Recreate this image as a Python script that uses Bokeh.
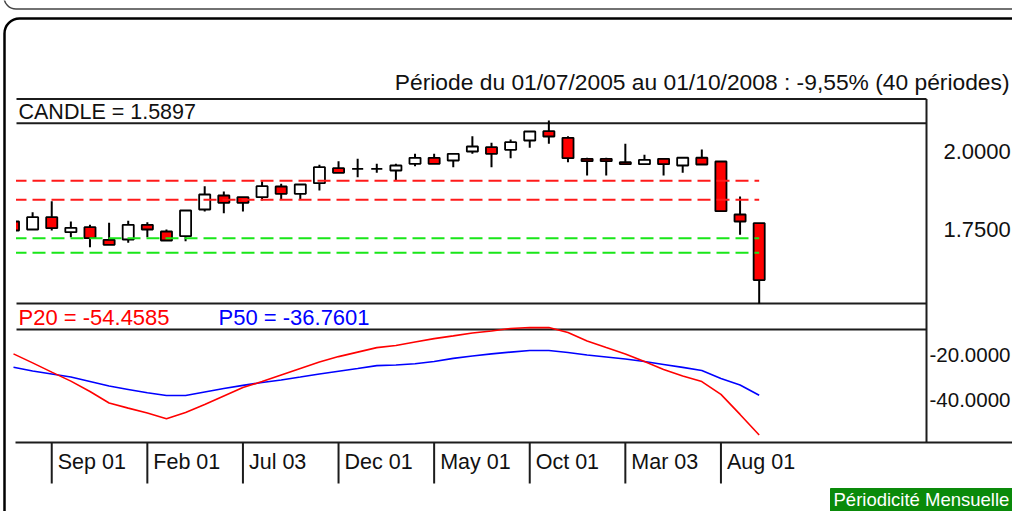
from bokeh.plotting import figure
from bokeh.models import Range1d, BoxAnnotation
from bokeh.core.properties import value
from bokeh.embed import file_html
from bokeh.resources import INLINE

# ---------------- data ----------------
opens = [1.7760, 1.7506, 1.7896, 1.7420, 1.7579, 1.7178, 1.7188, 1.7655, 1.7442, 1.7293,
         1.8141, 1.8586, 1.8532, 1.8532, 1.8872, 1.8640, 1.8977, 1.9454, 1.9434, 1.9434,
         1.9380, 1.9593, 1.9784, 1.9698, 1.9984, 2.0121, 2.0038, 2.0334, 2.0629, 2.0420,
         1.9752, 1.9752, 1.9644, 1.9581, 1.9752, 1.9539, 1.9785, 1.9666, 1.7982, 1.7706]
closes = [1.7474, 1.7896, 1.7547, 1.7560, 1.7229, 1.7019, 1.7655, 1.7506, 1.7156, 1.8109,
          1.8618, 1.8354, 1.8354, 1.8882, 1.8640, 1.8935, 1.9485, 1.9307, 1.9434, 1.9434,
          1.9539, 1.9784, 1.9593, 1.9911, 2.0143, 1.9911, 2.0280, 2.0620, 2.0461, 1.9771,
          1.9676, 1.9676, 1.9581, 1.9720, 1.9581, 1.9785, 1.9571, 1.8087, 1.7760, 1.5897]
highs = [1.7760, 1.8055, 1.8405, 1.7760, 1.7655, 1.7719, 1.7782, 1.7738, 1.7506, 1.8109,
         1.8882, 1.8713, 1.8532, 1.9040, 1.8958, 1.8935, 1.9562, 1.9676, 1.9752, 1.9593,
         1.9593, 1.9911, 1.9911, 1.9911, 2.0470, 2.0261, 2.0365, 2.0620, 2.0969, 2.0470,
         1.9784, 1.9784, 2.0229, 1.9879, 1.9752, 1.9785, 2.0048, 1.9666, 1.8554, 1.7706]
lows = [1.7293, 1.7506, 1.7474, 1.7261, 1.6943, 1.7019, 1.7083, 1.7261, 1.7156, 1.7134,
        1.8078, 1.8024, 1.8078, 1.8427, 1.8449, 1.8459, 1.8745, 1.9307, 1.9167, 1.9307,
        1.9063, 1.9517, 1.9593, 1.9485, 1.9911, 1.9485, 1.9771, 2.0102, 2.0229, 1.9644,
        1.9222, 1.9222, 1.9581, 1.9581, 1.9222, 1.9307, 1.9571, 1.8087, 1.7337, 1.5150]

p20 = [-18.4, -22.4, -26.5, -30.5, -35.1, -40.2, -42.5, -44.7, -47.2, -44.4,
       -40.9, -37.1, -33.3, -30.7, -27.8, -24.9, -22.0, -19.6, -17.6, -15.6,
       -14.7, -13.1, -11.6, -10.4, -9.1, -8.2, -7.1, -6.7, -6.7, -8.9,
       -12.7, -15.6, -18.4, -21.8, -25.3, -28.2, -30.7, -36.4, -45.3, -54.4585]
p50 = [-24.3, -26.0, -27.3, -28.7, -30.7, -32.7, -34.2, -35.7, -36.9, -36.9,
       -35.3, -33.8, -32.4, -31.1, -30.0, -28.7, -27.3, -26.1, -24.9, -23.6,
       -23.3, -22.8, -21.8, -20.4, -19.3, -18.4, -17.6, -16.9, -16.9, -17.8,
       -18.9, -19.8, -20.7, -21.8, -23.1, -24.4, -25.8, -29.3, -32.2, -36.7601]

resistance_levels = [1.9053, 1.8449]
support_levels = [1.7229, 1.6765]

tick_index = [2, 7, 12, 17, 22, 27, 32, 37]
tick_labels = ["Sep 01", "Feb 01", "Jul 03", "Dec 01", "May 01", "Oct 01", "Mar 03", "Aug 01"]
price_ticks = [2.0, 1.75]
osc_ticks = [-20.0, -40.0]

title_text = "Période du 01/07/2005 au 01/10/2008 : -9,55% (40 périodes)"
period_text = "Périodicité Mensuelle"

# ---------------- layout / scales (canvas pixel coordinates) ----------------
W, H = 1012, 511
X_AT_IDX0, PX_PER_IDX = 13.0, 19.12
Y_AT_P2, PX_PER_PRICE = 150.5, 314.7
Y_AT_OSC0, PX_PER_OSC = 312.0, 2.25


def idx_at(x):
    return (x - X_AT_IDX0) / PX_PER_IDX


def price_at(y):
    return 2.0 - (y - Y_AT_P2) / PX_PER_PRICE


def osc_at(y):
    return (Y_AT_OSC0 - y) / PX_PER_OSC


FONT = value("Liberation Sans")
LINE = "#1c1c1c"

p = figure(width=W, height=H, x_range=Range1d(0, W), y_range=Range1d(H, 0),
           min_border=0, toolbar_location=None, output_backend="svg",
           x_axis_location=None, y_axis_location=None, outline_line_color=None,
           background_fill_color="white", border_fill_color="white")
p.grid.visible = False
p.extra_x_ranges = {"idx": Range1d(idx_at(0), idx_at(W))}
p.extra_y_ranges = {"price": Range1d(price_at(H), price_at(0)),
                    "osc": Range1d(osc_at(H), osc_at(0))}

n = len(closes)
idx = list(range(n))

# panel frame lines
L, R = 16, 926
p.segment(x0=[L, L, L, L, 15, R], x1=[R, R, R, R, W, R],
          y0=[98.5, 122.7, 303, 329, 442, 98.5], y1=[98.5, 122.7, 303, 329, 442, 442],
          line_color=LINE, line_width=2)

# x-axis ticks (long tick lines) at candle positions, labels to their right
p.segment(x0=tick_index, x1=tick_index, y0=[442] * len(tick_index), y1=[483] * len(tick_index),
          x_range_name="idx", line_color=LINE, line_width=2)
p.text(x=tick_index, y=[461] * len(tick_index), text=tick_labels, x_range_name="idx",
       x_offset=6, text_font=FONT, text_font_size="21.5px", text_align="left",
       text_baseline="middle", text_color="#111")

# candles
body_top = [max(o, c) for o, c in zip(opens, closes)]
body_bot = [min(o, c) for o, c in zip(opens, closes)]
fills = ["#ff0000" if c < o else ("white" if c > o else "black") for o, c in zip(opens, closes)]
p.segment(x0=idx, x1=idx, y0=lows, y1=highs, x_range_name="idx", y_range_name="price",
          line_color="black", line_width=2)
p.vbar(x=idx, width=0.58, top=body_top, bottom=body_bot, x_range_name="idx",
       y_range_name="price", fill_color=fills, line_color="black", line_width=1.8)

# dashed support / resistance levels
for lv in resistance_levels:
    p.segment(x0=[0], x1=[n - 1], y0=[lv], y1=[lv], x_range_name="idx", y_range_name="price",
              line_color="#ff1a1a", line_width=2, line_dash="13 6")
for lv in support_levels:
    p.segment(x0=[0], x1=[n - 1], y0=[lv], y1=[lv], x_range_name="idx", y_range_name="price",
              line_color="#19e619", line_width=2, line_dash="13 6")

# oscillator lines
p.line(x=idx, y=p50, x_range_name="idx", y_range_name="osc", line_color="#0000ff", line_width=1.6)
p.line(x=idx, y=p20, x_range_name="idx", y_range_name="osc", line_color="#ff0000", line_width=1.6)

# right-hand value labels
p.text(x=[943] * len(price_ticks), y=price_ticks, y_range_name="price",
       text=[f"{v:.4f}" for v in price_ticks], text_font=FONT, text_font_size="22px",
       text_align="left", text_baseline="middle", text_color="#111")
p.text(x=[929] * len(osc_ticks), y=osc_ticks, y_range_name="osc",
       text=[f"{v:.4f}" for v in osc_ticks], text_font=FONT, text_font_size="20.5px",
       text_align="left", text_baseline="middle", text_color="#111", y_offset=-3)

# header texts
p.text(x=[18], y=[111], text=[f"CANDLE = {closes[-1]:.4f}"], text_font=FONT,
       text_font_size="21.5px", text_baseline="middle", text_color="#111")
p.text(x=[18], y=[316.5], text=[f"P20 = {p20[-1]:.4f}"], text_font=FONT,
       text_font_size="22px", text_baseline="middle", text_color="#ff0000")
p.text(x=[218], y=[316.5], text=[f"P50 = {p50[-1]:.4f}"], text_font=FONT,
       text_font_size="22px", text_baseline="middle", text_color="#0000ff")
p.text(x=[1009], y=[81], text=[title_text], text_font=FONT,
       text_font_size="22.8px", text_align="right", text_baseline="middle", text_color="#111")

# periodicity badge
p.quad(left=[830], right=[W], top=[488], bottom=[H], fill_color="#0a8a0a",
       line_color="#0a8a0a")
p.text(x=[833], y=[499], text=[period_text], text_font=FONT, text_font_size="18.5px",
       text_align="left", text_baseline="middle", text_color="white")

# mask left of panel, outer rounded frames
p.add_layout(BoxAnnotation(left=0, right=15.5, top=123.5, bottom=302, fill_color="white",
                           fill_alpha=1, line_alpha=0))
p.add_layout(BoxAnnotation(left=3.5, right=1080, top=-40, bottom=8.5, fill_alpha=0,
                           line_color="#444", line_alpha=1, line_width=1.5, border_radius=12))
p.add_layout(BoxAnnotation(left=4, right=1080, top=18, bottom=525, fill_alpha=0,
                           line_color="black", line_alpha=1, line_width=2.5, border_radius=15))

open("out.html", "w").write(file_html(p, INLINE))
